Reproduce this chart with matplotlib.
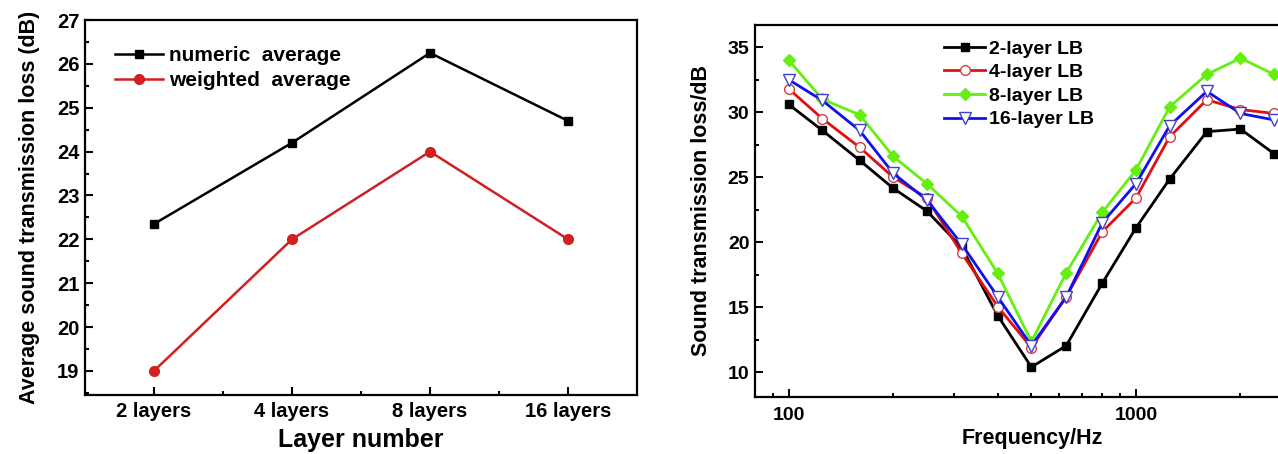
import matplotlib
matplotlib.use("Agg")
import matplotlib.pyplot as plt
from matplotlib.ticker import FixedLocator, MultipleLocator, LogLocator, NullFormatter, FixedFormatter

plt.rcParams['font.family'] = ['Liberation Sans', 'DejaVu Sans']
plt.rcParams['font.weight'] = 'bold'

# Left panel data
layers = ["2 layers", "4 layers", "8 layers", "16 layers"]
numeric_avg = [22.35, 24.2, 26.25, 24.7]
weighted_avg = [19.0, 22.0, 24.0, 22.0]

# Right panel data
freqs = [100, 125, 160, 200, 250, 315, 400, 500, 630, 800, 1000, 1250, 1600, 2000, 2500]
lb2 = [30.6, 28.6, 26.3, 24.15, 22.4, 19.6, 14.35, 10.4, 12.05, 16.85, 21.1, 24.85, 28.5, 28.7, 26.8]
lb4 = [31.8, 29.5, 27.3, 25.0, 23.4, 19.15, 15.05, 11.9, 15.8, 20.8, 23.4, 28.1, 30.95, 30.2, 29.9]
lb8 = [34.0, 31.0, 29.8, 26.6, 24.5, 22.0, 17.6, 12.35, 17.65, 22.3, 25.55, 30.4, 32.9, 34.15, 32.9]
lb16 = [32.5, 30.9, 28.6, 25.3, 23.25, 19.85, 15.8, 12.05, 15.8, 21.5, 24.5, 28.95, 31.6, 29.9, 29.4]

fig = plt.figure(figsize=(12.78, 4.54), dpi=100)

# ---- Left axes ----
ax1 = fig.add_axes([85/1278, 1-395/454, (637-85)/1278, (395-20)/454])
x = list(range(len(layers)))
ax1.plot(x, numeric_avg, color='black', marker='s', markersize=6, lw=1.8, label='numeric  average')
ax1.plot(x, weighted_avg, color='#d02020', marker='o', markersize=7, lw=1.8, label='weighted  average')
ax1.set_xlim(-0.5, 3.5)
ax1.set_ylim(18.45, 27)
ax1.xaxis.set_major_locator(FixedLocator(x))
ax1.set_xticklabels(layers)
ax1.xaxis.set_minor_locator(FixedLocator([0.5, 1.5, 2.5]))
ax1.yaxis.set_major_locator(MultipleLocator(1))
ax1.yaxis.set_minor_locator(MultipleLocator(0.5))
ax1.tick_params(which='both', direction='in', labelsize=14.5, width=1.5)
ax1.tick_params(which='major', length=6)
ax1.tick_params(which='minor', length=3)
ax1.tick_params(axis='x', pad=5)
ax1.tick_params(axis='y', pad=4)
for s in ax1.spines.values():
    s.set_linewidth(1.6)
ax1.set_xlabel('Layer number', fontsize=18, fontweight='bold', labelpad=5)
ax1.set_ylabel('Average sound transmission loss (dB)', fontsize=15.5, fontweight='bold', labelpad=12)
ax1.legend(loc='upper left', bbox_to_anchor=(0.02, 0.98), frameon=False, fontsize=15,
           handlelength=2.3, handletextpad=0.3, labelspacing=0.28)

# ---- Right axes ----
left2 = 755/1278
right2 = 1309/1278
ax2 = fig.add_axes([left2, 1-397/454, right2-left2, (397-25)/454])
ax2.plot(freqs, lb2, color='black', marker='s', markersize=6, lw=2, label='2-layer LB')
ax2.plot(freqs, lb4, color='#e01010', marker='o', markersize=7, lw=2, markerfacecolor='white',
         markeredgecolor='#d04040', markeredgewidth=1, label='4-layer LB')
ax2.plot(freqs, lb8, color='#66ee11', marker='D', markersize=6, lw=2, label='8-layer LB')
ax2.plot(freqs, lb16, color='#1010ee', marker='v', markersize=8, lw=2, markerfacecolor='white',
         markeredgecolor='#4040cc', markeredgewidth=1, label='16-layer LB')
ax2.set_xscale('log')
ax2.set_xlim(80, 3150)
ax2.set_ylim(8.1, 36.7)
ax2.xaxis.set_major_locator(FixedLocator([100, 1000]))
ax2.xaxis.set_major_formatter(FixedFormatter(['100', '1000']))
ax2.xaxis.set_minor_locator(LogLocator(base=10, subs=[2, 3, 4, 5, 6, 7, 8, 9], numticks=10))
ax2.xaxis.set_minor_formatter(NullFormatter())
ax2.yaxis.set_major_locator(MultipleLocator(5))
ax2.yaxis.set_minor_locator(MultipleLocator(2.5))
ax2.tick_params(which='both', direction='in', labelsize=14, width=1.4)
ax2.tick_params(which='major', length=6)
ax2.tick_params(which='minor', length=3)
ax2.tick_params(axis='x', pad=7)
ax2.tick_params(axis='y', pad=4)
for s in ax2.spines.values():
    s.set_linewidth(1.6)
ax2.set_xlabel('Frequency/Hz', fontsize=15.5, fontweight='bold', labelpad=3)
ax2.set_ylabel('Sound transmission loss/dB', fontsize=15.5, fontweight='bold', labelpad=11)
ax2.legend(loc='upper left', bbox_to_anchor=(0.31, 1.007), frameon=False, fontsize=14,
           handlelength=2.1, handletextpad=0.2, labelspacing=0.31)

fig.savefig('out.png', dpi=100)
